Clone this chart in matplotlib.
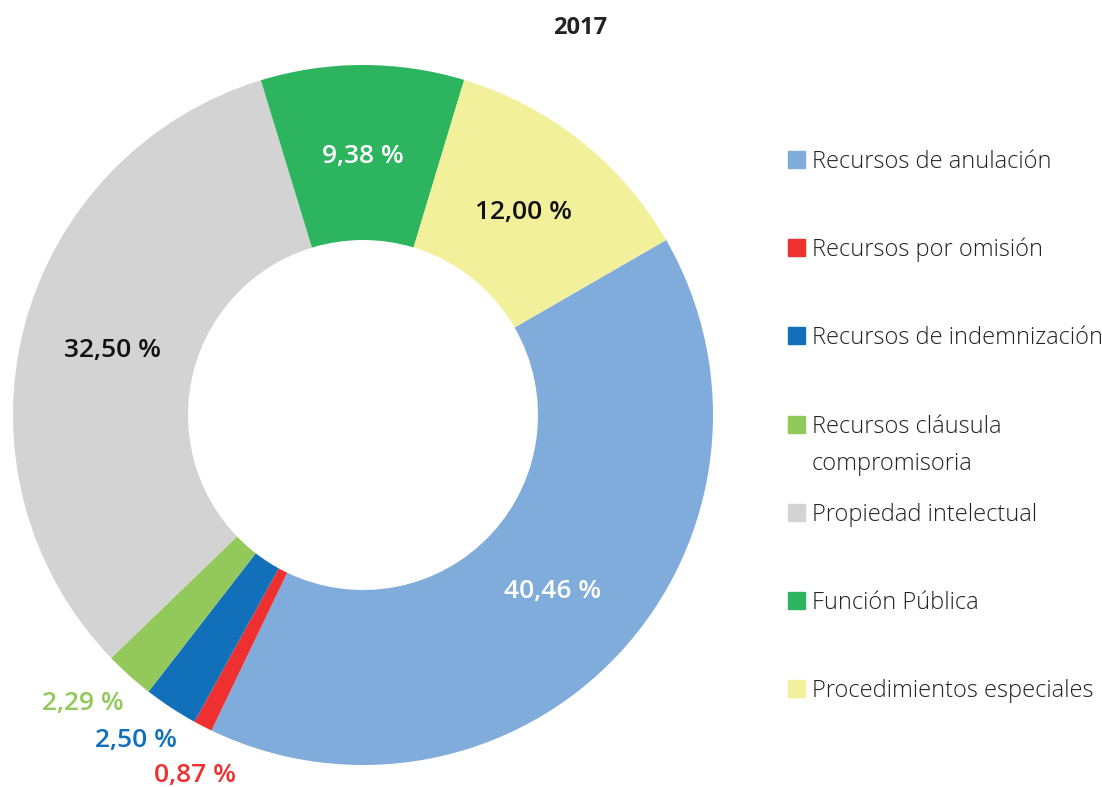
import matplotlib.pyplot as plt
import numpy as np
from matplotlib.patches import Rectangle

plt.rcParams['font.family'] = ['Open Sans', 'DejaVu Sans']

# data
categories = ["Recursos de anulación", "Recursos por omisión", "Recursos de indemnización",
              "Recursos cláusula\ncompromisoria", "Propiedad intelectual",
              "Función Pública", "Procedimientos especiales"]
values = [40.46, 0.87, 2.50, 2.29, 32.50, 9.38, 12.00]
colors = ["#80ACDC", "#EE3030", "#1170B9", "#92C95A", "#D2D3D2", "#2DB45E", "#F2F09A"]
pct_colors = ["white", "#EE3030", "#1170B9", "#92C95A", "#111111", "white", "#111111"]
# pixel offsets for the small slices' labels (None = inside the ring)
label_offsets = [None, (-8, -49), (-35, -33), (-46, -28), None, None, None]

fig = plt.figure(figsize=(11.02, 7.87), dpi=100)
ax = fig.add_axes([363/1102 - 350/1102, (787-415-350)/787, 700/1102, 700/787])

start = 30
wedges, _ = ax.pie(values, colors=colors, startangle=start, counterclock=False,
                   radius=1, wedgeprops=dict(width=0.5, edgecolor='none'))
ax.set_xlim(-1, 1)
ax.set_ylim(-1, 1)
ax.set_aspect('equal')
ax.axis('off')

for w, v, c, off in zip(wedges, values, pct_colors, label_offsets):
    mid = np.deg2rad((w.theta1 + w.theta2) / 2)
    txt = f"{v:.2f} %".replace(".", ",")
    if off is None:
        ax.text(0.74*np.cos(mid), 0.74*np.sin(mid), txt, ha='center', va='center',
                color=c, fontsize=19, fontweight='semibold')
    else:
        ax.annotate(txt, (np.cos(mid), np.sin(mid)), xytext=off,
                    textcoords='offset pixels', ha='center', va='center',
                    color=c, fontsize=19, fontweight='semibold', annotation_clip=False)

fig.text(580/1102, 1 - 28/787, "2017", ha='center', va='center',
         fontsize=17, fontweight='bold', color='#222222')

# legend
rows_y = [160, 248, 336, 425, 513, 601, 689]
for lab, col, yy in zip(categories, colors, rows_y):
    fig.patches.append(Rectangle((788/1102, 1 - (yy+8)/787), 17/1102, 17/787,
                                 transform=fig.transFigure, color=col))
    fig.text(812/1102, 1 - (yy-10)/787, lab, ha='left', va='top', fontsize=17,
             fontweight='light', color='#222222', linespacing=1.72)

fig.savefig("out.png", dpi=100)
